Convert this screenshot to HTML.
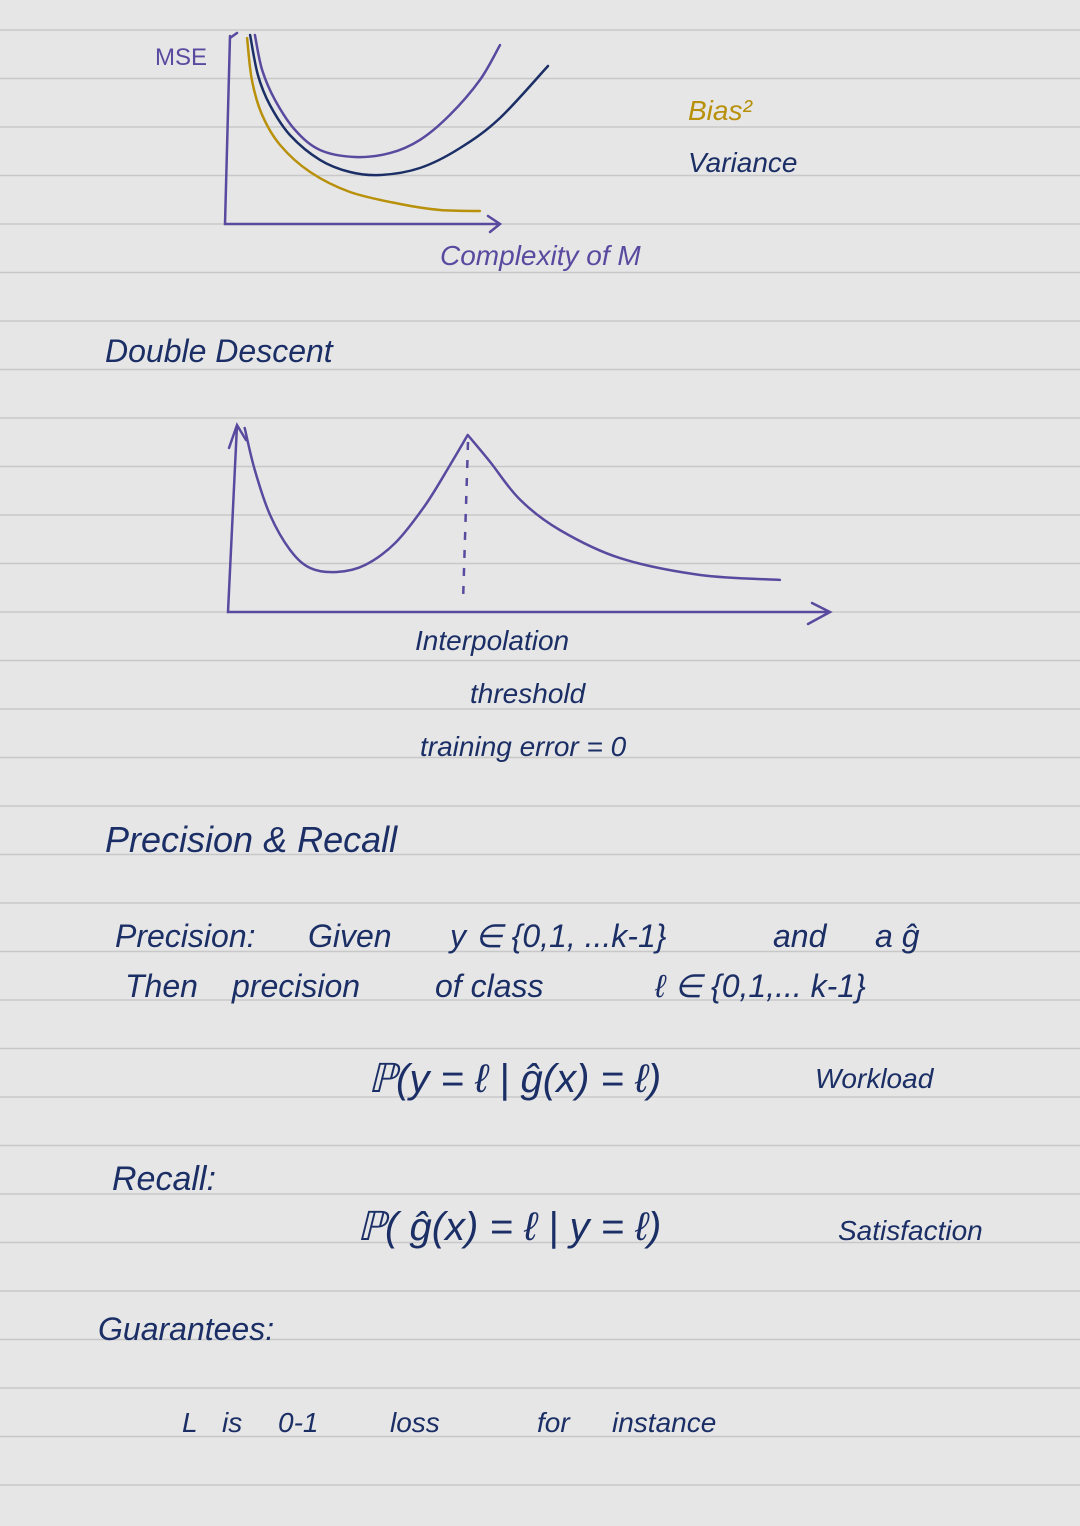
<!DOCTYPE html>
<html><head><meta charset="utf-8"><style>
html,body{margin:0;padding:0;background:#e6e6e6;}
#page{position:relative;width:1080px;height:1526px;overflow:hidden;background:#e6e6e6;}
svg{position:absolute;left:0;top:0;}
text{font-family:"Liberation Sans",sans-serif;font-style:italic;}
</style></head><body>
<div id="page">
<svg id="svg" width="1080" height="1526" viewBox="0 0 1080 1526">
<g id="rules"></g>
<g id="chart1">
  <path d="M237,33 L230,38 M230,36 L225,224 L500,224 M488,216 L500,224 L490,232" fill="none" stroke="#5a4a9f" stroke-width="2.5" stroke-linecap="round"/>
  <text x="155" y="65" font-size="24" fill="#5a4a9f" style="font-style:normal">MSE</text>
  <text x="440" y="265" font-size="28" fill="#5a4a9f">Complexity of M</text>
  <text x="688" y="120" font-size="28" fill="#b8900a">Bias²</text>
  <text x="688" y="172" font-size="28" fill="#1b2f66">Variance</text>
</g>
<g id="chart2">
  <path d="M229,448 L237,425 L246,440 M237,425 L228,612 L830,612 M812,603 L830,612 L808,624" fill="none" stroke="#5a4a9f" stroke-width="2.5" stroke-linecap="round"/>
  <line x1="468" y1="442" x2="463" y2="602" stroke="#5a4a9f" stroke-width="2.5" stroke-dasharray="8,10"/>
  <text x="415" y="650" font-size="28" fill="#1b2f66">Interpolation</text>
  <text x="470" y="703" font-size="28" fill="#1b2f66">threshold</text>
  <text x="420" y="756" font-size="28" fill="#1b2f66">training error = 0</text>
</g>
<g fill="#1b2f66" font-size="32">
  <text x="105" y="362">Double Descent</text>
  <text x="105" y="852" font-size="36">Precision &amp; Recall</text>
  <g>
    <text x="115" y="947">Precision:</text>
    <text x="308" y="947">Given</text>
    <text x="450" y="947">y ∈ {0,1, ...k-1}</text>
    <text x="773" y="947">and</text>
    <text x="875" y="947">a ĝ</text>
  </g>
  <g>
    <text x="125" y="997">Then</text>
    <text x="232" y="997">precision</text>
    <text x="435" y="997">of class</text>
    <text x="655" y="997">ℓ ∈ {0,1,... k-1}</text>
  </g>
  <text x="368" y="1092" font-size="40">ℙ(y = ℓ | ĝ(x) = ℓ)</text>
  <text x="815" y="1088" font-size="28">Workload</text>
  <text x="112" y="1190" font-size="34">Recall:</text>
  <text x="357" y="1240" font-size="40">ℙ( ĝ(x) = ℓ | y = ℓ)</text>
  <text x="838" y="1240" font-size="28">Satisfaction</text>
  <text x="98" y="1340">Guarantees:</text>
  <g font-size="28">
    <text x="182" y="1432">L</text>
    <text x="222" y="1432">is</text>
    <text x="278" y="1432">0-1</text>
    <text x="390" y="1432">loss</text>
    <text x="537" y="1432">for</text>
    <text x="612" y="1432">instance</text>
  </g>
</g>
<g id="curves1"></g>
<g id="curves2"></g>
</svg>
</div>
<script>
// Chart 1: bias-variance (x: complexity, y: error)
const mseX = [0.083,0.107,0.15,0.217,0.3,0.417,0.533,0.633,0.733,0.833,0.9];
const mseVals = [1.0,0.806,0.639,0.472,0.361,0.322,0.344,0.417,0.556,0.75,0.944];
const varX = [0.067,0.093,0.133,0.2,0.3,0.4,0.5,0.633,0.767,0.9,1.06];
const varVals = [1.0,0.778,0.611,0.444,0.306,0.239,0.222,0.261,0.372,0.539,0.828];
const biasX = [0.057,0.073,0.107,0.167,0.267,0.4,0.567,0.7,0.833];
const biasVals = [0.983,0.75,0.556,0.389,0.239,0.128,0.061,0.028,0.022];
// Chart 2: double descent
const ddX = [0.008,0.025,0.051,0.085,0.119,0.164,0.212,0.263,0.314,0.356,0.386,0.424,0.475,0.542,0.644,0.78,0.915];
const ddVals = [1.045,0.774,0.484,0.258,0.142,0.116,0.161,0.303,0.548,0.806,1.0,0.826,0.581,0.387,0.206,0.097,0.065];

function sx1(v){return 230+v*300;} function sy1(v){return 215-v*180;}
function sx2(v){return 240+v*590;} function sy2(v){return 590-v*155;}

function smooth(pts){
  if(pts.length<2) return '';
  let d='M'+pts[0][0].toFixed(1)+','+pts[0][1].toFixed(1);
  for(let i=0;i<pts.length-1;i++){
    const p0=pts[i-1]||pts[i], p1=pts[i], p2=pts[i+1], p3=pts[i+2]||p2;
    const c1=[p1[0]+(p2[0]-p0[0])/6, p1[1]+(p2[1]-p0[1])/6];
    const c2=[p2[0]-(p3[0]-p1[0])/6, p2[1]-(p3[1]-p1[1])/6];
    d+=' C'+c1[0].toFixed(1)+','+c1[1].toFixed(1)+' '+c2[0].toFixed(1)+','+c2[1].toFixed(1)+' '+p2[0].toFixed(1)+','+p2[1].toFixed(1);
  }
  return d;
}
function toPts(xs,ys,sx,sy){return xs.map((x,i)=>[sx(x),sy(ys[i])]);}
const NS='http://www.w3.org/2000/svg';
function addPath(g,d,color,name){
  const p=document.createElementNS(NS,'path');
  p.setAttribute('d',d);p.setAttribute('fill','none');p.setAttribute('stroke',color);
  p.setAttribute('stroke-width','2.5');p.setAttribute('stroke-linejoin','round');p.setAttribute('stroke-linecap','round');
  
  
  g.appendChild(p);
}
const g1=document.getElementById('curves1');
addPath(g1,smooth(toPts(biasX,biasVals,sx1,sy1)),'#b8900a','bias-curve');
addPath(g1,smooth(toPts(varX,varVals,sx1,sy1)),'#1b2f66','variance-curve');
addPath(g1,smooth(toPts(mseX,mseVals,sx1,sy1)),'#5a4a9f','mse-curve');

const g2=document.getElementById('curves2');
let peak=1;
for(let i=1;i<ddVals.length-1;i++){ if(ddVals[i]>ddVals[i-1]&&ddVals[i]>ddVals[i+1]){peak=i;} }
const ddPts=toPts(ddX,ddVals,sx2,sy2);
addPath(g2,smooth(ddPts.slice(0,peak+1))+' '+smooth(ddPts.slice(peak)).replace(/^M/,'M'),'#5a4a9f','double-descent-curve');

const rules=document.getElementById('rules');
for(let y=30;y<1526;y+=48.5){
  const l=document.createElementNS(NS,'line');
  l.setAttribute('x1','0');l.setAttribute('x2','1080');l.setAttribute('y1',y);l.setAttribute('y2',y);
  l.setAttribute('stroke','#c8c8c8');l.setAttribute('stroke-width','1.5');
  
  
  rules.appendChild(l);
}
</script>
</body></html>
